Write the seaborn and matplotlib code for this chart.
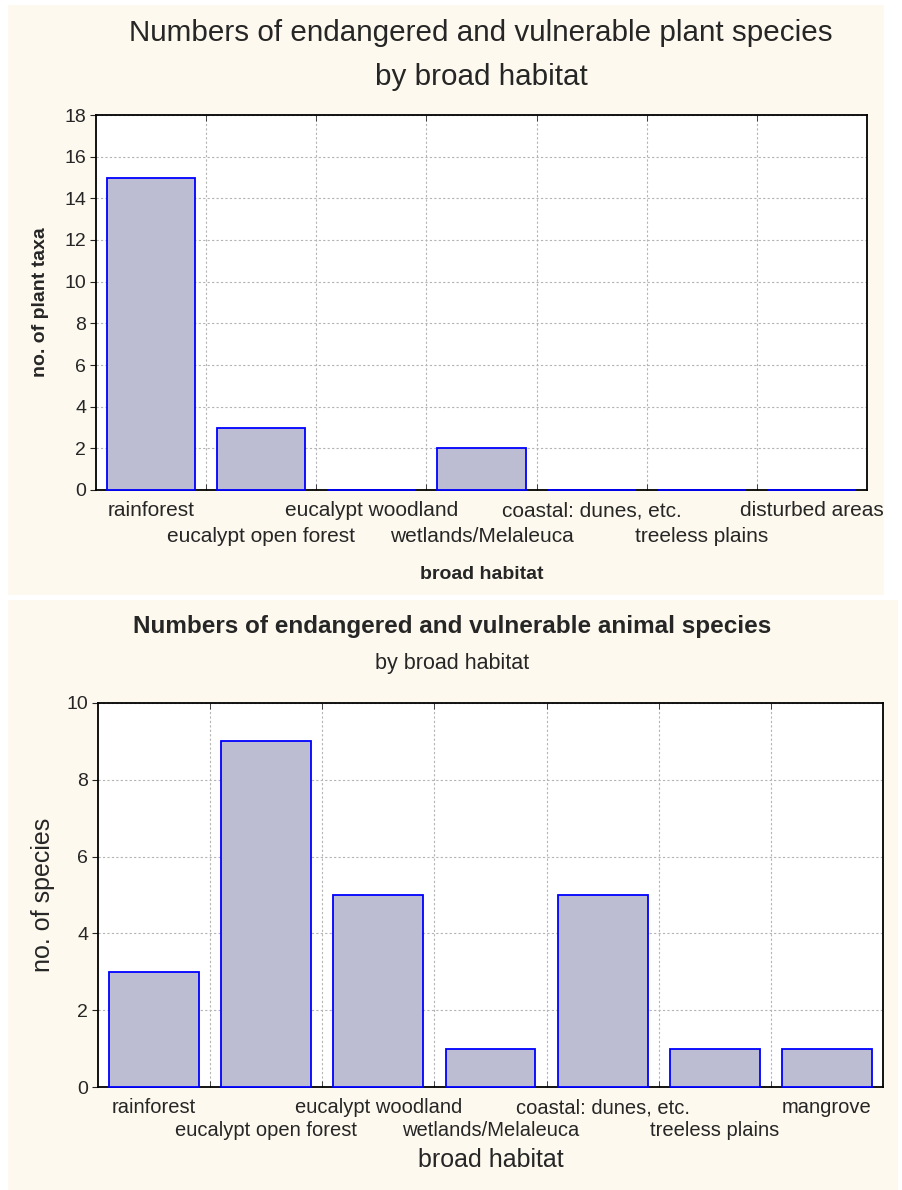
import numpy as np
import pandas as pd
import matplotlib
matplotlib.use("Agg")
import matplotlib.pyplot as plt
import seaborn as sns
from matplotlib.patches import Rectangle

# data
plant_habitats = ["rainforest", "eucalypt open forest", "eucalypt woodland", "wetlands/Melaleuca",
                  "coastal: dunes, etc.", "treeless plains", "disturbed areas"]
plant_counts = [15, 3, 0, 2, 0, 0, 0]

animal_habitats = ["rainforest", "eucalypt open forest", "eucalypt woodland", "wetlands/Melaleuca",
                   "coastal: dunes, etc.", "treeless plains", "mangrove"]
animal_counts = [3, 9, 5, 1, 5, 1, 1]

sns.set_style("white")
plt.rcParams['font.family'] = ['Liberation Sans', 'DejaVu Sans']

BG = "#fdf9ee"
BAR = "#bcbcd3"
EDGE = "#0000ff"
W, H = 903, 1190

fig = plt.figure(figsize=(9.03, 11.9), dpi=100)
fig.patch.set_facecolor("white")


def px_rect(x0, y0, x1, y1):
    # pixel box (top-left origin) -> figure fraction rect
    return [x0 / W, 1 - y1 / H, (x1 - x0) / W, (y1 - y0) / H]


# cream panels behind everything
for box in [(8, 5, 884, 595), (8, 600, 898, 1190)]:
    l, b, w, h = px_rect(*box)
    fig.patches.append(Rectangle((l, b), w, h, transform=fig.transFigure,
                                 facecolor=BG, edgecolor="none", zorder=-10))


def draw(ax, cats, vals, ymax, ylab, bold, labsize, ticksize, row2, xpad, ypad):
    df = pd.DataFrame({"habitat": cats, "n": vals})
    sns.barplot(data=df, x="habitat", y="n", ax=ax, color=BAR, edgecolor=EDGE,
                linewidth=1.3, width=0.8, saturation=1, zorder=3)
    for p in ax.patches:
        p.set_clip_on(False)
    n = len(cats)
    ax.set_xlim(-0.5, n - 0.5)
    ax.set_ylim(0, ymax)
    ax.set_yticks(np.arange(0, ymax + 1, 2))
    ax.set_xticks(range(n))
    ax.set_xticklabels(cats, fontsize=ticksize)
    # alternate labels on two rows
    for i, t in enumerate(ax.get_xticklabels()):
        if i % 2 == 1:
            t.set_y(-row2)
    ax.set_xticks(np.arange(0.5, n - 0.5, 1), minor=True)
    ax.tick_params(axis="x", which="major", length=0, pad=8)
    ax.tick_params(axis="x", which="minor", length=4, direction="in", top=True, bottom=True)
    ax.tick_params(axis="y", which="major", length=4, direction="out", labelsize=14, left=True, pad=3)
    ax.grid(True, axis="x", which="minor", linestyle=(0, (2, 2)), color="#b4b4b4", linewidth=0.8, zorder=0)
    ax.grid(True, axis="y", which="major", linestyle=(0, (2, 2)), color="#b4b4b4", linewidth=0.8, zorder=0)
    ax.set_axisbelow(True)
    for s in ax.spines.values():
        s.set_color("black")
        s.set_linewidth(1.3)
    w = "bold" if bold else "normal"
    ax.set_xlabel("broad habitat", fontsize=labsize, fontweight=w, labelpad=xpad)
    ax.set_ylabel(ylab, fontsize=labsize, fontweight=w, labelpad=ypad)
    ax.set_facecolor("white")


ax1 = fig.add_axes(px_rect(96, 115, 867, 490))
draw(ax1, plant_habitats, plant_counts, 18, "no. of plant taxa", True, 14, 15, 26 / 375, 14, 11)
fig.text(481 / W, 1 - 33 / H, "Numbers of endangered and vulnerable plant species",
         ha="center", va="center", fontsize=21.3)
fig.text(481 / W, 1 - 77 / H, "by broad habitat", ha="center", va="center", fontsize=21.3)

ax2 = fig.add_axes(px_rect(98, 703, 883, 1087))
draw(ax2, animal_habitats, animal_counts, 10, "no. of species", False, 18, 14.5, 23 / 384, 6, 8)
fig.text(452 / W, 1 - 627 / H, "Numbers of endangered and vulnerable animal species",
         ha="center", va="center", fontsize=17.5, fontweight="bold")
fig.text(452 / W, 1 - 663 / H, "by broad habitat", ha="center", va="center", fontsize=15.5)

fig.savefig("out.png", dpi=100, facecolor=fig.get_facecolor())
